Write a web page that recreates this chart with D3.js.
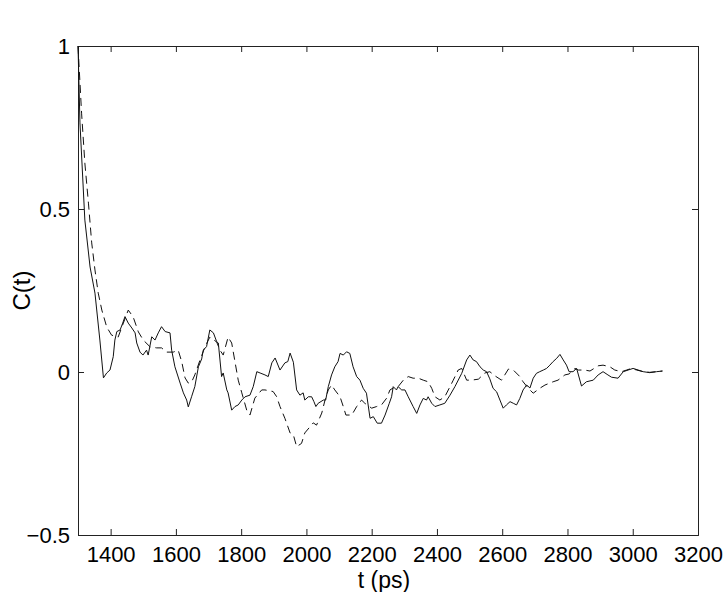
<!DOCTYPE html>
<html>
<head>
<meta charset="utf-8">
<script src="https://unpkg.com/d3@7/dist/d3.min.js"></script>
<style>
  body { margin: 0; background: #fff; }
  text { font-family: "Liberation Sans", Arial, Helvetica, sans-serif; }
</style>
</head>
<body>
<div class="chart"></div>
<script>
// [t (ps), C(t)]  -- solid curve
const solidSeries = [
  [1300,1.0],[1306,0.764],[1321,0.466],[1337,0.322],[1352,0.242],[1367,0.098],[1378,-0.018],
  [1388,-0.003],[1398,0.006],[1408,0.047],[1413,0.098],[1419,0.124],[1429,0.129],[1437,0.150],
  [1444,0.170],[1454,0.150],[1465,0.135],[1475,0.120],[1480,0.089],[1490,0.061],[1499,0.052],
  [1510,0.067],[1515,0.052],[1526,0.108],[1536,0.098],[1546,0.120],[1556,0.139],[1567,0.124],
  [1582,0.120],[1587,0.067],[1597,0.016],[1613,-0.034],[1623,-0.064],[1633,-0.086],[1638,-0.107],
  [1648,-0.076],[1658,-0.045],[1669,0.016],[1679,0.040],[1684,0.067],[1694,0.078],[1704,0.129],
  [1715,0.120],[1725,0.093],[1730,0.089],[1740,-0.014],[1745,-0.003],[1756,-0.055],[1760,-0.064],
  [1771,-0.117],[1781,-0.106],[1791,-0.101],[1802,-0.086],[1812,-0.076],[1827,-0.071],[1837,-0.045],
  [1848,0.001],[1858,-0.003],[1873,-0.009],[1883,-0.014],[1894,0.028],[1904,0.043],[1919,0.006],
  [1934,0.028],[1943,0.032],[1950,0.058],[1960,0.030],[1970,-0.055],[1980,-0.071],[1990,-0.064],
  [1995,-0.086],[2006,-0.076],[2016,-0.076],[2023,-0.091],[2029,-0.106],[2036,-0.096],[2052,-0.086],
  [2059,-0.086],[2067,-0.045],[2077,-0.009],[2087,0.016],[2097,0.032],[2103,0.057],[2113,0.052],
  [2123,0.062],[2133,0.057],[2143,0.016],[2154,-0.014],[2164,-0.025],[2174,-0.050],[2184,-0.065],
  [2195,-0.142],[2205,-0.137],[2217,-0.157],[2230,-0.157],[2241,-0.132],[2254,-0.096],[2261,-0.076],
  [2266,-0.045],[2276,-0.055],[2281,-0.045],[2292,-0.055],[2302,-0.055],[2312,-0.076],[2327,-0.106],
  [2338,-0.127],[2348,-0.101],[2358,-0.081],[2368,-0.086],[2373,-0.076],[2384,-0.096],[2394,-0.106],
  [2409,-0.101],[2424,-0.096],[2440,-0.071],[2455,-0.045],[2476,-0.004],[2491,0.037],[2501,0.052],
  [2511,0.037],[2521,0.032],[2532,0.016],[2542,0.006],[2552,0.001],[2562,-0.021],[2572,-0.050],
  [2583,-0.061],[2593,-0.086],[2603,-0.111],[2613,-0.101],[2624,-0.091],[2634,-0.096],[2644,-0.101],
  [2654,-0.081],[2664,-0.055],[2675,-0.040],[2685,-0.049],[2695,-0.019],[2705,-0.004],[2715,0.001],
  [2726,0.006],[2736,0.011],[2746,0.021],[2756,0.032],[2767,0.042],[2777,0.054],[2787,0.037],
  [2797,0.021],[2805,0.001],[2817,0.001],[2828,0.011],[2843,-0.043],[2858,-0.030],[2879,-0.025],
  [2894,-0.009],[2909,0.001],[2924,-0.009],[2935,-0.016],[2955,-0.019],[2971,0.001],[2986,0.006],
  [3001,0.011],[3017,0.006],[3032,0.001],[3052,-0.002],[3073,0.001],[3091,0.003]
]

// [t (ps), C(t)]  -- dashed curve
const dashedSeries = [
  [1300,1.0],[1311,0.794],[1321,0.641],[1332,0.518],[1342,0.396],[1352,0.313],[1362,0.242],
  [1373,0.190],[1388,0.138],[1403,0.113],[1423,0.107],[1439,0.150],[1454,0.190],[1469,0.169],
  [1485,0.123],[1500,0.098],[1521,0.077],[1541,0.074],[1556,0.074],[1572,0.061],[1592,0.061],
  [1607,0.067],[1618,0.031],[1628,-0.018],[1638,-0.034],[1648,-0.031],[1658,-0.009],[1674,0.037],
  [1689,0.077],[1704,0.107],[1725,0.092],[1735,0.067],[1745,0.052],[1760,0.107],[1771,0.089],
  [1781,0.032],[1791,-0.025],[1802,-0.064],[1817,-0.117],[1827,-0.132],[1842,-0.080],[1863,-0.055],
  [1873,-0.055],[1898,-0.060],[1909,-0.076],[1919,-0.106],[1934,-0.142],[1950,-0.187],[1960,-0.193],
  [1970,-0.229],[1985,-0.219],[1995,-0.187],[2021,-0.156],[2031,-0.163],[2047,-0.126],[2057,-0.086],
  [2067,-0.055],[2077,-0.040],[2087,-0.055],[2103,-0.076],[2113,-0.106],[2121,-0.132],[2139,-0.132],
  [2154,-0.106],[2169,-0.086],[2179,-0.096],[2200,-0.111],[2215,-0.106],[2230,-0.101],[2246,-0.080],
  [2256,-0.055],[2266,-0.049],[2281,-0.045],[2297,-0.025],[2312,-0.014],[2327,-0.019],[2343,-0.019],
  [2358,-0.025],[2373,-0.030],[2384,-0.050],[2394,-0.076],[2409,-0.086],[2424,-0.076],[2440,-0.045],
  [2450,-0.025],[2465,0.006],[2476,0.011],[2491,-0.025],[2506,-0.025],[2527,-0.022],[2547,-0.003],
  [2562,0.001],[2578,-0.012],[2598,-0.025],[2619,0.009],[2634,0.006],[2654,-0.014],[2664,-0.030],
  [2680,-0.050],[2695,-0.065],[2715,-0.050],[2731,-0.040],[2756,-0.030],[2771,-0.025],[2792,-0.009],
  [2805,-0.006],[2823,0.011],[2833,0.006],[2853,0.006],[2869,0.003],[2894,0.019],[2909,0.021],
  [2930,0.016],[2945,0.006],[2966,0.001],[2981,0.006],[2996,0.011],[3012,0.006],[3032,0.001],
  [3052,-0.001],[3073,0.001],[3091,0.003]
]

const xTicks = [1400, 1600, 1800, 2000, 2200, 2400, 2600, 2800, 3000, 3200]
const yTicks = [-0.5, 0, 0.5, 1]

const W = 728, H = 592
const margin = ({top: 46, right: 30, bottom: 57, left: 78})
const width = W - margin.left - margin.right
const height = H - margin.top - margin.bottom

const xScale = d3.scaleLinear().domain([1300, 3200]).range([0, width])
const yScale = d3.scaleLinear().domain([-0.5, 1]).range([height, 0])

const svg = d3.select(".chart").append("svg")
    .attr("width", W)
    .attr("height", H)
  .append("g")
    .attr("transform", `translate(${margin.left},${margin.top})`)

const fmt = d => d < 0 ? "\u2212" + Math.abs(d) : String(d)

// axes, ticks pointing inward like matlab
const xAxis = d3.axisBottom(xScale).tickValues(xTicks).tickSize(-6).tickPadding(11).tickFormat(d => d)
const xTop = d3.axisTop(xScale).tickValues(xTicks).tickSize(-6).tickFormat("")
const yAxis = d3.axisLeft(yScale).tickValues(yTicks).tickSize(-6).tickPadding(8).tickFormat(fmt)
const yRight = d3.axisRight(yScale).tickValues(yTicks).tickSize(-6).tickFormat("")

svg.append("g").attr("class", "axis").attr("transform", `translate(0,${height})`).call(xAxis)
svg.append("g").attr("class", "axis").call(xTop)
svg.append("g").attr("class", "axis").call(yAxis)
svg.append("g").attr("class", "axis").attr("transform", `translate(${width},0)`).call(yRight)

svg.selectAll(".axis path, .axis line").attr("stroke", "#222").attr("stroke-width", 1)
svg.selectAll(".axis text")
    .attr("font-size", 22)
    .attr("fill", "#000")
    .style("font-family", '"Liberation Sans", Arial, sans-serif')

const line = d3.line()
    .x(d => xScale(d[0]))
    .y(d => yScale(d[1]))

svg.append("path")
    .datum(dashedSeries)
    .attr("fill", "none")
    .attr("stroke", "#111")
    .attr("stroke-width", 1)
    .attr("stroke-dasharray", "8,5")
    .attr("d", line)

svg.append("path")
    .datum(solidSeries)
    .attr("fill", "none")
    .attr("stroke", "#111")
    .attr("stroke-width", 1)
    .attr("d", line)

svg.append("text")
    .attr("x", width / 2 - 4)
    .attr("y", height + 53)
    .attr("text-anchor", "middle")
    .attr("font-size", 23)
    .text("t (ps)")

svg.append("text")
    .attr("transform", `translate(${-48},${height / 2}) rotate(-90)`)
    .attr("text-anchor", "middle")
    .attr("font-size", 24)
    .text("C(t)")
</script>
</body>
</html>
